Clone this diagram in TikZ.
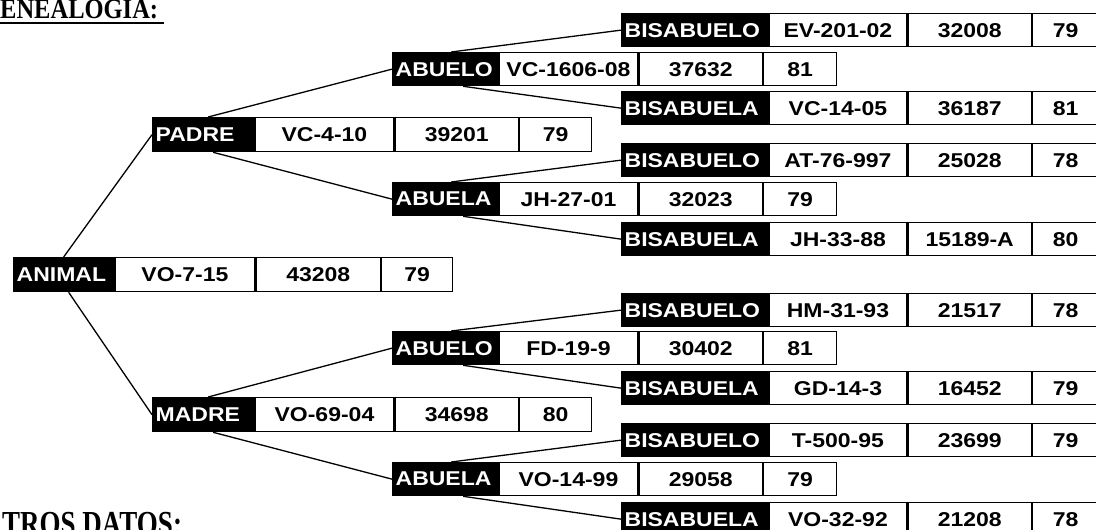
\documentclass[tikz,border=0pt]{standalone}
\usepackage{fontspec}
\usepackage{graphicx}
\newfontfamily\cellfont[FakeStretch=1.15]{Liberation Sans}
\newfontfamily\headfont{Liberation Serif}
\usetikzlibrary{calc}
% level geometry (px = pt)
\def\XA{13}\def\XB{152}\def\XC{392}\def\XD{621}
\def\TA{94}\def\TB{95}\def\TC{99}\def\TD{140}
\def\WBA{140}\def\WBB{139}\def\WBC{139}\def\WBD{138}
\def\WCA{124}\def\WCB{123}\def\WCC{123}\def\WCD{123}
\def\WDA{71}\def\WDB{72}\def\WDC{73}\def\WDD{66}
\def\HA{34}\def\HB{34}\def\HC{33}\def\HD{33}
\tikzset{
  cellbase/.style={font=\cellfont\bfseries\fontsize{20}{22}\selectfont, line width=1.3pt, anchor=north west},
  blackcell/.style={cellbase, draw=black, fill=black, text=white, inner xsep=3pt, inner ysep=0pt},
  whitecell/.style={cellbase, draw=black, fill=white, text=black, inner sep=0pt},
  heading/.style={anchor=base west, inner sep=0pt},
  link/.style={line width=1.3pt, black},
}
\newcommand\famrow[7]{%
  \node[blackcell, minimum height=\csname H#2\endcsname pt]
    (#1) at (\csname X#2\endcsname,#3) {\makebox[\csname T#2\endcsname pt][l]{#4}};
  \node[whitecell, minimum width=\csname WB#2\endcsname pt, minimum height=\csname H#2\endcsname pt]
    (#1-2) at (#1.north east) {#5};
  \node[whitecell, minimum width=\csname WC#2\endcsname pt, minimum height=\csname H#2\endcsname pt]
    (#1-3) at (#1-2.north east) {#6};
  \node[whitecell, minimum width=\csname WD#2\endcsname pt, minimum height=\csname H#2\endcsname pt]
    (#1-4) at (#1-3.north east) {#7};
}
\begin{document}
\begin{tikzpicture}[x=1pt, y=-1pt]
\fill[white] (0,0) rectangle (1096,530);
\useasboundingbox (0,0) rectangle (1096,530);

% headings
\node[heading] (gen) at (0,19) {\scalebox{1}[1.15]{\headfont\bfseries\fontsize{24.5}{28}\selectfont ENEALOGIA:}};
\draw[line width=1.8pt] ($(gen.base west)+(-1,4)$) -- ($(gen.base east)+(6,4)$);
\node[heading] (otros) at (2,535) {\scalebox{1}[1.3]{\headfont\bfseries\fontsize{27}{30}\selectfont TROS DATOS:}};

% rows
\famrow{an}{A}{257}{ANIMAL}{VO-7-15}{43208}{79}
\famrow{pa}{B}{117}{PADRE}{VC-4-10}{39201}{79}
\famrow{ma}{B}{397}{MADRE}{VO-69-04}{34698}{80}
\famrow{pao}{C}{52}{ABUELO}{VC-1606-08}{37632}{81}
\famrow{paa}{C}{182}{ABUELA}{JH-27-01}{32023}{79}
\famrow{mao}{C}{331}{ABUELO}{FD-19-9}{30402}{81}
\famrow{maa}{C}{462}{ABUELA}{VO-14-99}{29058}{79}
\famrow{b1}{D}{13}{BISABUELO}{EV-201-02}{32008}{79}
\famrow{b2}{D}{91}{BISABUELA}{VC-14-05}{36187}{81}
\famrow{b3}{D}{143}{BISABUELO}{AT-76-997}{25028}{78}
\famrow{b4}{D}{222}{BISABUELA}{JH-33-88}{15189-A}{80}
\famrow{b5}{D}{293}{BISABUELO}{HM-31-93}{21517}{78}
\famrow{b6}{D}{371}{BISABUELA}{GD-14-3}{16452}{79}
\famrow{b7}{D}{423}{BISABUELO}{T-500-95}{23699}{79}
\famrow{b8}{D}{502}{BISABUELA}{VO-32-92}{21208}{78}

% connectors
\draw[link] (an.north) -- (pa.west);
\draw[link] ([xshift=5pt]an.south) -- (ma.west);
\draw[link] ([xshift=5pt]pa.north) -- (pao.west);
\draw[link] ([xshift=10pt]pa.south) -- (paa.west);
\draw[link] ([xshift=5pt]ma.north) -- (mao.west);
\draw[link] ([xshift=10pt]ma.south) -- (maa.west);
\draw[link] ([xshift=6pt]pao.north) -- (b1.west);
\draw[link] ([xshift=18pt]pao.south) -- (b2.west);
\draw[link] ([xshift=6pt]paa.north) -- (b3.west);
\draw[link] ([xshift=18pt]paa.south) -- (b4.west);
\draw[link] ([xshift=6pt]mao.north) -- (b5.west);
\draw[link] ([xshift=18pt]mao.south) -- (b6.west);
\draw[link] ([xshift=6pt]maa.north) -- (b7.west);
\draw[link] ([xshift=18pt]maa.south) -- (b8.west);
\end{tikzpicture}
\end{document}
